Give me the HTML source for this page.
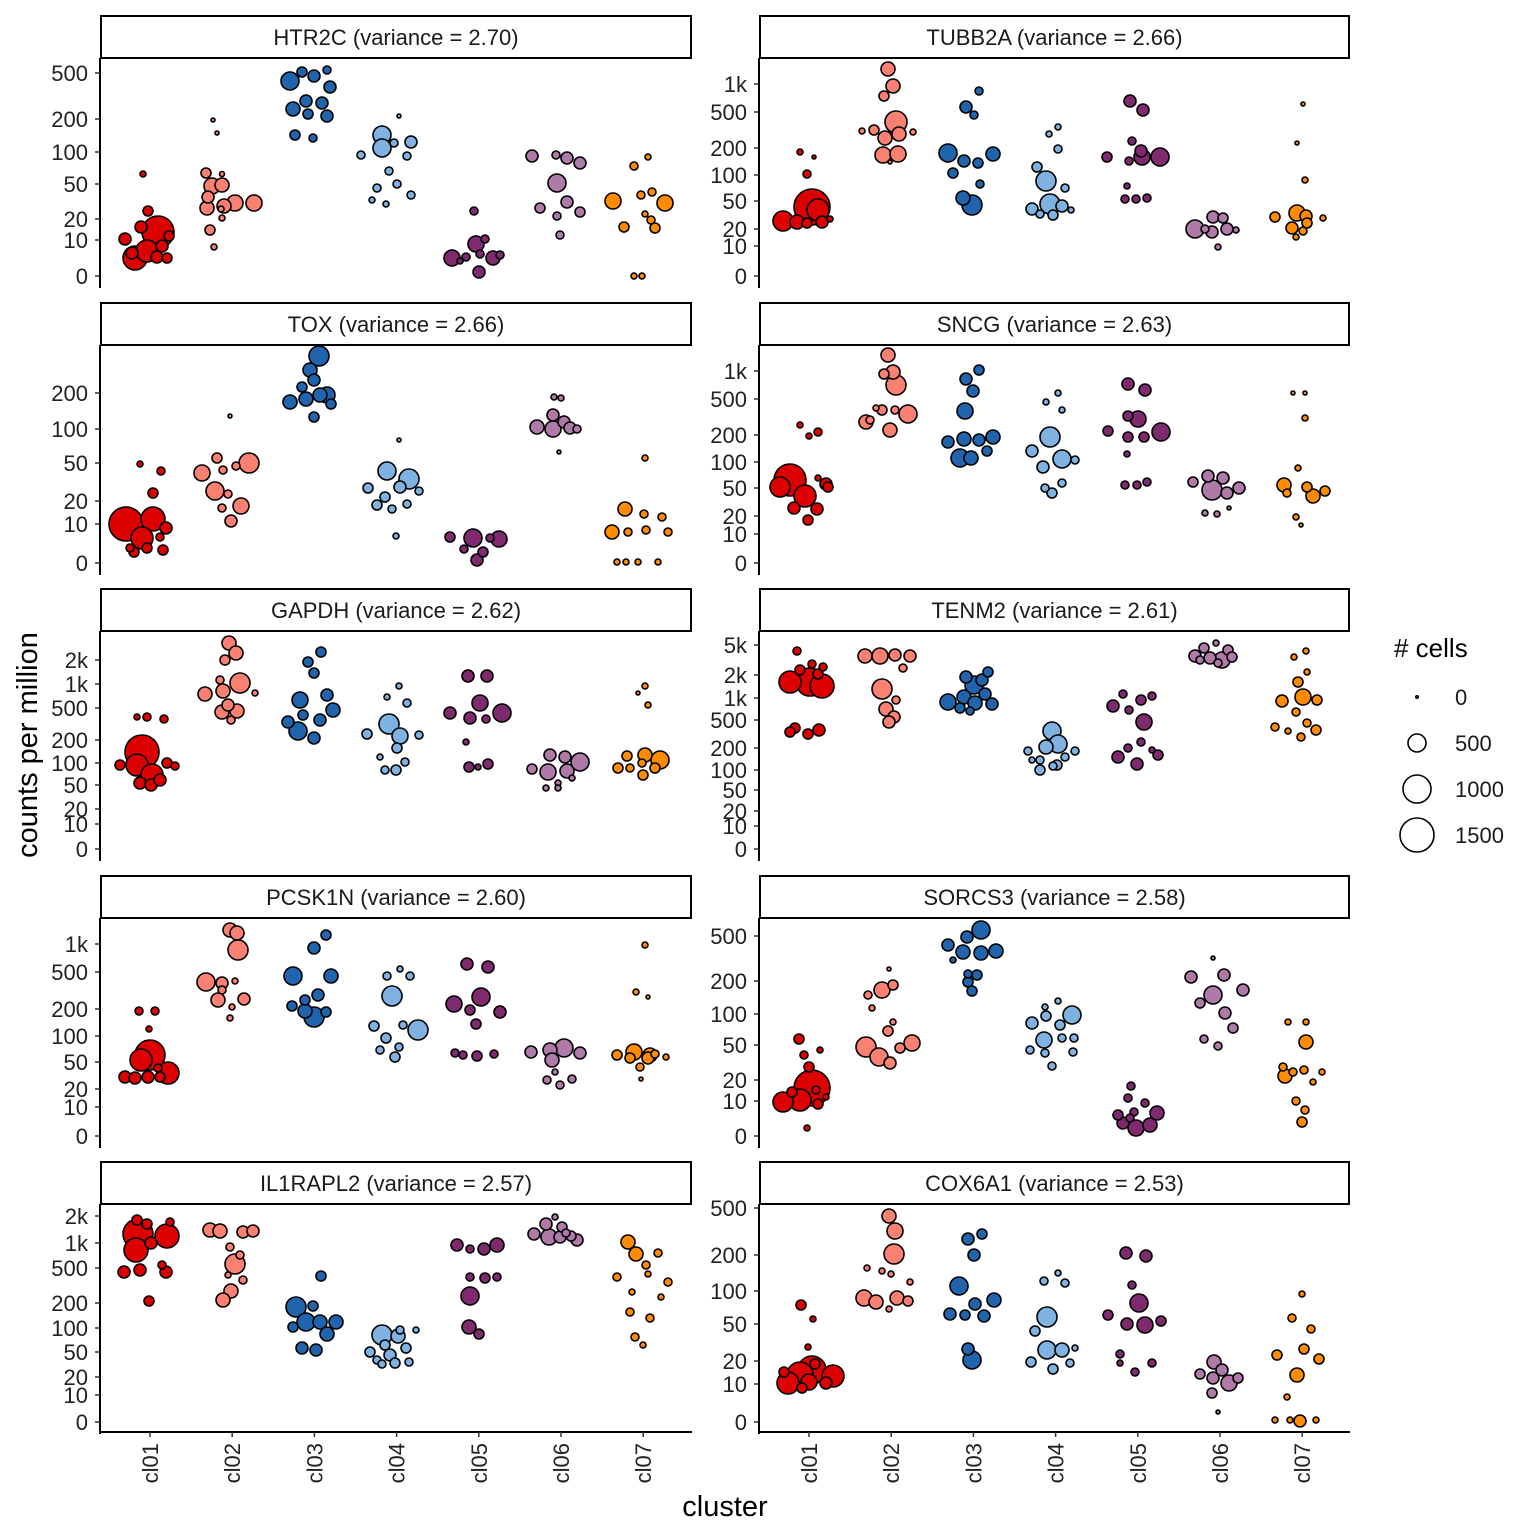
<!DOCTYPE html>
<html><head><meta charset="utf-8"><style>
html,body{margin:0;padding:0;background:#fff}
svg{display:block;font-family:"Liberation Sans",sans-serif}
</style></head><body>
<svg id="s" width="1536" height="1536" xmlns="http://www.w3.org/2000/svg"></svg>
<script>
const S=document.getElementById('s');let h='';
const cols=['#dd0000','#fa8072','#1f64ad','#7fb2e0','#7f2a6e','#b07aa8','#ff8c00'];
const panels=[
{t:'HTR2C (variance = 2.70)',c:0,r:0,ticks:[['500',73],['200',119],['100',152],['50',184],['20',219],['10',240],['0',276]],
p:[[[143,174,3],[148,211,5],[141,227,6],[158,232,16],[125,239,6],[132,253,6],[147,251,11],[135,258,12],[162,246,6],[167,258,5],[157,257,6],[169,236,5]],
[[213,120,2],[217,133,2],[222,174,2.5],[206,173,5],[212,186,8],[222,185,7],[207,208,7],[208,197,6],[224,206,7],[235,203,8],[254,203,8],[221,209,3],[222,218,3],[210,230,5],[214,247,3]],
[[290,81,9],[302,72,5],[314,76,6],[327,70,4],[330,87,6],[293,109,7],[306,101,6],[322,103,6],[308,114,5],[327,116,6],[295,135,5],[313,138,4]],
[[399,116,2],[382,135,9],[382,148,9],[361,155,4],[394,143,4],[411,142,6],[407,156,4],[389,171,4],[377,188,4],[397,184,4],[411,195,4],[386,204,3],[372,200,3]],
[[474,211,4],[476,244,8],[485,239,4],[452,258,8],[466,257,4],[480,254,4],[493,258,7],[500,255,4],[479,272,6],[460,261,3]],
[[532,156,6],[556,155,4],[567,158,6],[580,163,6],[557,183,9],[540,208,5],[567,202,6],[580,212,5],[557,216,4],[560,235,4]],
[[648,157,3],[634,166,4],[613,201,8],[641,195,4],[652,192,4],[665,203,8],[645,214,3],[624,227,5],[651,220,4],[655,228,5],[634,276,3],[642,276,3]]]},
{t:'TUBB2A (variance = 2.66)',c:1,r:0,ticks:[['1k',84],['500',112],['200',148],['100',175],['50',201],['20',229],['10',246],['0',276]],
p:[[[800,152,3],[814,157,2],[807,174,4],[783,221,10],[797,222,7],[812,207,18],[818,210,11],[822,222,6],[807,223,5],[830,219,3]],
[[888,69,7],[893,86,7],[884,96,5],[862,131,3],[874,130,5],[896,122,11],[885,138,7],[899,134,7],[883,155,8],[898,154,8],[913,132,3],[890,162,2]],
[[979,91,4],[966,107,6],[974,115,4],[948,153,9],[964,161,6],[978,163,5],[993,154,7],[953,173,5],[980,184,4],[963,198,7],[972,205,10]],
[[1058,127,3],[1049,134,3],[1058,149,4],[1037,167,5],[1046,181,10],[1065,188,4],[1032,209,6],[1050,204,10],[1062,206,6],[1040,214,4],[1053,215,5],[1071,210,3]],
[[1130,101,6],[1143,110,6],[1132,141,4],[1107,157,5],[1141,151,6],[1142,157,8],[1160,157,9],[1129,161,4],[1127,186,3],[1125,199,4],[1136,199,4],[1147,198,4]],
[[1213,217,6],[1223,218,5],[1195,229,9],[1212,232,6],[1227,229,6],[1236,230,3],[1218,247,3],[1205,229,4]],
[[1303,104,2],[1297,143,2],[1305,180,3],[1275,217,5],[1297,213,8],[1306,216,6],[1323,218,3],[1292,228,6],[1303,231,4],[1296,237,3],[1307,223,5]]]},
{t:'TOX (variance = 2.66)',c:0,r:1,ticks:[['200',393],['100',429],['50',463],['20',501],['10',524],['0',563]],
p:[[[140,464,3],[161,471,4],[153,493,5],[126,524,17],[153,519,12],[142,538,11],[166,528,6],[130,548,4],[134,552,5],[147,548,5],[163,550,5],[160,537,4]],
[[230,416,2],[217,458,5],[202,473,8],[223,470,4],[236,466,4],[249,463,10],[215,491,9],[228,494,4],[241,506,8],[231,521,6],[222,508,4]],
[[319,356,10],[310,370,7],[314,380,6],[302,387,5],[290,402,7],[306,399,7],[320,395,7],[327,395,8],[331,404,5],[314,417,5]],
[[399,440,2],[387,471,9],[409,479,10],[368,488,5],[400,487,6],[385,497,5],[377,505,5],[392,509,4],[419,491,4],[407,504,4],[396,536,3]],
[[450,537,5],[473,538,9],[499,539,8],[483,552,5],[477,560,6],[490,538,4],[464,549,4]],
[[554,397,3],[561,398,3],[553,415,6],[564,422,6],[537,427,7],[553,429,8],[570,428,6],[577,429,4],[559,452,2]],
[[645,458,3],[625,509,7],[644,514,4],[612,532,7],[628,532,4],[646,530,4],[662,517,4],[668,532,4],[617,562,3],[626,562,3],[638,562,3],[658,562,3]]]},
{t:'SNCG (variance = 2.63)',c:1,r:1,ticks:[['1k',371],['500',399],['200',435],['100',462],['50',488],['20',516],['10',534],['0',563]],
p:[[[800,425,3],[818,432,4],[809,436,3],[790,480,16],[780,487,10],[805,496,11],[794,508,6],[817,509,6],[808,520,5],[826,484,6],[828,487,5],[818,478,3]],
[[888,355,7],[893,372,7],[884,374,5],[896,385,10],[866,422,7],[882,410,5],[895,410,4],[908,414,9],[890,430,7],[876,408,3],[870,420,4]],
[[979,370,5],[966,379,6],[973,391,6],[965,411,8],[948,442,6],[964,439,7],[979,440,6],[993,437,7],[960,458,9],[971,458,7],[987,451,5]],
[[1058,393,3],[1046,402,3],[1062,410,3],[1050,437,10],[1032,451,6],[1062,459,9],[1043,467,6],[1075,460,4],[1045,488,4],[1052,493,5],[1062,483,4]],
[[1128,384,6],[1145,390,6],[1128,416,5],[1138,419,8],[1161,432,9],[1108,431,5],[1128,437,5],[1144,437,5],[1127,454,3],[1125,485,4],[1137,485,4],[1147,482,4]],
[[1208,476,6],[1223,478,6],[1193,482,5],[1212,490,10],[1227,493,6],[1239,488,6],[1205,513,3],[1217,514,3],[1229,508,2]],
[[1293,393,2],[1305,393,2],[1305,418,3],[1298,468,3],[1284,485,7],[1307,487,5],[1313,496,7],[1325,491,5],[1296,517,3],[1301,525,2],[1287,493,4]]]},
{t:'GAPDH (variance = 2.62)',c:0,r:2,ticks:[['2k',660],['1k',684],['500',708],['200',740],['100',763],['50',785],['20',809],['10',824],['0',849]],
p:[[[137,717,3],[147,717,4],[164,719,4],[142,752,17],[137,765,11],[120,765,5],[152,775,11],[140,783,6],[151,785,6],[160,780,6],[167,763,5],[175,766,4]],
[[229,643,7],[236,653,7],[225,660,5],[205,694,7],[223,691,7],[240,683,10],[228,705,6],[222,712,7],[237,711,7],[231,720,4],[255,693,3],[220,680,4]],
[[321,652,5],[308,662,5],[314,673,5],[300,700,8],[327,695,6],[288,722,6],[298,731,9],[314,738,6],[320,720,6],[333,710,7],[303,715,5]],
[[399,686,3],[387,697,3],[407,703,4],[389,724,10],[367,734,5],[400,736,8],[419,735,4],[397,748,5],[380,757,3],[385,770,4],[396,770,5],[405,762,4]],
[[468,676,6],[487,676,6],[450,713,6],[480,703,8],[470,718,6],[486,719,4],[502,713,9],[466,742,3],[469,767,5],[478,767,3],[488,764,5]],
[[550,755,6],[565,757,6],[580,762,9],[532,769,5],[548,772,8],[567,771,7],[558,783,3],[546,788,3],[558,788,3],[572,778,3]],
[[645,686,3],[638,693,2],[648,705,3],[627,756,5],[645,755,7],[660,760,9],[618,768,5],[630,768,4],[642,763,4],[655,768,5],[643,775,5]]]},
{t:'TENM2 (variance = 2.61)',c:1,r:2,ticks:[['5k',645],['2k',675],['1k',698],['500',720],['200',748],['100',770],['50',790],['20',811],['10',826],['0',849]],
p:[[[797,651,4],[812,664,4],[823,667,4],[790,682,11],[810,682,14],[822,686,12],[800,670,5],[818,674,5],[795,728,5],[808,734,5],[819,730,6],[790,732,5]],
[[865,656,7],[880,656,8],[895,655,6],[910,656,6],[903,668,4],[882,689,10],[886,709,7],[894,717,6],[889,722,6],[896,700,4]],
[[966,677,6],[982,680,6],[988,672,5],[974,685,9],[948,702,8],[964,697,7],[975,703,7],[985,694,6],[992,704,6],[960,708,5],[970,711,4]],
[[1052,731,9],[1028,751,4],[1046,747,7],[1058,744,9],[1075,751,4],[1040,760,4],[1053,766,4],[1065,757,4],[1040,770,5],[1057,765,5],[1032,760,3]],
[[1123,694,4],[1141,700,5],[1152,696,4],[1113,706,6],[1144,722,8],[1129,710,4],[1141,742,4],[1158,755,5],[1128,748,4],[1118,757,6],[1137,764,6],[1152,750,3]],
[[1216,643,3],[1204,648,5],[1228,650,5],[1195,656,6],[1210,658,6],[1222,660,8],[1232,657,5],[1218,663,4],[1200,660,4]],
[[1306,651,3],[1294,657,3],[1307,672,3],[1298,682,5],[1282,701,6],[1303,697,8],[1317,700,5],[1296,712,4],[1275,727,4],[1288,731,3],[1307,723,4],[1316,730,5],[1301,737,4]]]},
{t:'PCSK1N (variance = 2.60)',c:0,r:3,ticks:[['1k',944],['500',972],['200',1009],['100',1036],['50',1062],['20',1089],['10',1107],['0',1136]],
p:[[[139,1011,4],[155,1011,4],[149,1029,3],[150,1055,15],[141,1060,11],[168,1073,11],[125,1077,6],[135,1078,6],[148,1077,6],[160,1077,5],[158,1068,4]],
[[230,930,7],[237,933,7],[238,950,10],[206,982,9],[222,983,6],[235,981,3],[218,1000,7],[244,999,6],[232,1007,3],[222,990,4],[230,1018,3]],
[[326,935,5],[314,948,6],[293,976,9],[331,976,7],[318,995,6],[292,1006,5],[305,1011,7],[326,1012,5],[314,1017,10],[305,1000,5]],
[[400,969,3],[387,976,4],[410,976,4],[392,996,10],[374,1026,5],[403,1025,4],[418,1030,10],[386,1038,5],[399,1047,4],[380,1050,4],[395,1057,5]],
[[467,964,6],[488,967,6],[454,1004,8],[481,997,9],[470,1010,5],[500,1012,6],[476,1024,5],[455,1053,4],[463,1055,4],[477,1056,5],[494,1054,4]],
[[550,1050,7],[564,1048,9],[580,1053,6],[531,1052,6],[552,1060,7],[547,1080,4],[560,1085,4],[572,1079,4],[555,1072,3]],
[[645,945,3],[636,992,3],[648,997,2],[634,1052,8],[648,1058,6],[617,1055,5],[630,1058,5],[650,1055,7],[666,1057,3],[640,1067,4],[641,1079,2],[655,1054,4]]]},
{t:'SORCS3 (variance = 2.58)',c:1,r:3,ticks:[['500',936],['200',981],['100',1014],['50',1045],['20',1080],['10',1101],['0',1136]],
p:[[[799,1039,5],[820,1050,3],[804,1055,4],[809,1067,5],[812,1088,18],[800,1100,11],[783,1102,10],[792,1092,5],[818,1104,5],[826,1097,3],[816,1090,4],[807,1128,3]],
[[889,969,2],[868,995,4],[882,990,8],[893,985,5],[872,1008,3],[893,1022,3],[866,1047,10],[879,1057,9],[890,1063,6],[900,1048,5],[912,1043,8],[888,1031,5]],
[[981,930,9],[967,937,6],[948,945,6],[963,952,7],[981,953,7],[996,951,7],[953,960,3],[968,974,4],[977,975,5],[968,982,5],[972,991,5]],
[[1058,1001,3],[1045,1007,3],[1046,1016,5],[1072,1015,9],[1032,1023,6],[1060,1025,5],[1044,1040,8],[1062,1038,4],[1074,1038,4],[1030,1050,4],[1045,1053,4],[1073,1052,4],[1052,1066,4]],
[[1131,1086,4],[1128,1098,4],[1145,1103,4],[1134,1112,4],[1118,1115,5],[1157,1113,7],[1123,1123,6],[1150,1125,7],[1136,1128,8],[1130,1118,4]],
[[1213,958,2],[1191,977,6],[1224,975,6],[1243,990,6],[1213,995,9],[1200,1003,5],[1225,1013,6],[1233,1028,5],[1204,1039,4],[1218,1046,4]],
[[1288,1022,3],[1306,1022,3],[1306,1042,7],[1283,1067,4],[1285,1076,7],[1293,1072,4],[1304,1070,4],[1313,1082,3],[1322,1072,3],[1296,1101,4],[1305,1110,4],[1302,1122,5]]]},
{t:'IL1RAPL2 (variance = 2.57)',c:0,r:4,ticks:[['2k',1216],['1k',1243],['500',1268],['200',1303],['100',1328],['50',1352],['20',1377],['10',1395],['0',1422]],
p:[[[137,1220,5],[147,1224,5],[170,1222,4],[138,1234,15],[167,1236,12],[136,1250,12],[151,1243,6],[124,1272,6],[140,1270,6],[166,1272,6],[162,1265,4],[149,1301,5]],
[[210,1230,7],[220,1231,7],[243,1232,6],[253,1231,6],[230,1247,4],[235,1264,10],[240,1255,4],[228,1275,3],[231,1291,7],[223,1300,7],[243,1280,4]],
[[321,1276,5],[296,1307,10],[313,1306,5],[320,1322,7],[306,1322,9],[293,1327,5],[336,1322,7],[327,1334,7],[302,1348,6],[316,1350,6]],
[[400,1330,4],[382,1335,10],[398,1336,7],[416,1330,3],[370,1352,5],[390,1355,6],[406,1348,5],[377,1360,4],[382,1364,4],[395,1363,5],[409,1362,4],[385,1345,5]],
[[457,1245,6],[470,1249,4],[484,1249,6],[497,1245,7],[470,1277,4],[485,1278,5],[497,1277,4],[470,1296,9],[469,1327,7],[479,1334,5]],
[[555,1217,3],[546,1224,6],[562,1227,5],[534,1234,6],[549,1237,8],[560,1237,6],[571,1236,5],[577,1240,6],[566,1233,4]],
[[628,1242,7],[636,1254,7],[658,1253,4],[646,1265,4],[617,1277,4],[648,1274,3],[668,1282,4],[632,1292,3],[630,1312,4],[650,1318,4],[635,1337,4],[643,1345,3],[661,1297,3]]]},
{t:'COX6A1 (variance = 2.53)',c:1,r:4,ticks:[['500',1208],['200',1255],['100',1291],['50',1324],['20',1361],['10',1384],['0',1422]],
p:[[[801,1305,5],[813,1319,3],[808,1347,3],[815,1364,5],[800,1375,13],[812,1370,14],[833,1376,11],[788,1383,11],[826,1383,6],[802,1388,5],[784,1372,5],[809,1382,8]],
[[889,1216,7],[895,1231,8],[894,1254,10],[867,1268,3],[882,1271,3],[891,1274,3],[910,1282,3],[864,1298,8],[876,1302,7],[897,1298,7],[908,1301,5],[889,1309,3]],
[[982,1234,5],[968,1239,6],[974,1255,6],[959,1286,9],[975,1304,6],[950,1314,6],[965,1315,5],[984,1316,6],[994,1300,7],[968,1349,6],[972,1360,9]],
[[1058,1273,3],[1044,1281,4],[1065,1283,4],[1047,1317,10],[1035,1331,5],[1047,1350,9],[1062,1350,7],[1031,1362,5],[1053,1369,5],[1070,1363,4],[1075,1348,3]],
[[1126,1253,6],[1146,1256,6],[1132,1285,4],[1139,1303,9],[1108,1315,5],[1127,1324,6],[1145,1325,8],[1161,1321,5],[1120,1354,4],[1135,1372,4],[1152,1363,4],[1120,1363,3]],
[[1214,1362,7],[1222,1370,6],[1200,1374,5],[1213,1378,6],[1238,1378,5],[1229,1383,8],[1212,1393,5],[1218,1412,2]],
[[1302,1294,3],[1292,1318,4],[1311,1329,4],[1277,1355,5],[1304,1349,5],[1319,1359,5],[1297,1375,7],[1275,1420,3],[1290,1420,3],[1300,1421,6],[1316,1420,3],[1287,1397,3]]]}
];
const rowTop=[15,302,588,875,1161];
panels.forEach(P=>{
  const x0=P.c?759:100, x1=P.c?1350:692, top=rowTop[P.r], pt=top+43, pb=pt+229;
  h+=`<rect x="${x0+1}" y="${top+1}" width="${x1-x0-2}" height="42" fill="#fff" stroke="#000" stroke-width="2"/>`;
  h+=`<text x="${(x0+x1)/2}" y="${top+30}" font-size="22" text-anchor="middle" fill="#1a1a1a">${P.t}</text>`;
  h+=`<line x1="${x0}" y1="${pt}" x2="${x0}" y2="${pb+1}" stroke="#000" stroke-width="2"/>`;
  P.ticks.forEach(t=>{h+=`<line x1="${x0-5}" y1="${t[1]}" x2="${x0}" y2="${t[1]}" stroke="#333" stroke-width="1.5"/><text x="${x0-12}" y="${t[1]+8}" font-size="22" text-anchor="end" fill="#222">${t[0]}</text>`;});
  P.p.forEach((g,ci)=>{g.slice().sort((a,b)=>b[2]-a[2]).forEach(q=>{h+=`<circle cx="${q[0]}" cy="${q[1]}" r="${q[2]}" fill="${cols[ci]}" stroke="#000" stroke-width="1.6"/>`;});});
  if(P.r==4){
    h+=`<line x1="${x0-1}" y1="1432" x2="${x1}" y2="1432" stroke="#000" stroke-width="2"/>`;
    for(let i=0;i<7;i++){const tx=(P.c?809:150)+i*82.2;
      h+=`<line x1="${tx}" y1="1432" x2="${tx}" y2="1437" stroke="#333" stroke-width="1.5"/>`;
      h+=`<text transform="translate(${tx+8},1443) rotate(-90)" font-size="22" text-anchor="end" fill="#222">cl0${i+1}</text>`;}
  }
});
h+=`<text x="725" y="1516" font-size="29" text-anchor="middle">cluster</text>`;
h+=`<text transform="translate(37,745) rotate(-90)" font-size="29" text-anchor="middle">counts per million</text>`;
h+=`<text x="1394" y="657" font-size="26">#  cells</text>`;
[[697,1.2,'0'],[743,9,'500'],[789,14,'1000'],[835,17,'1500']].forEach(l=>{
  h+=`<circle cx="1417" cy="${l[0]}" r="${l[1]}" fill="#fff" stroke="#000" stroke-width="1.6"/><text x="1455" y="${l[0]+8}" font-size="22" fill="#1a1a1a">${l[2]}</text>`;});
S.innerHTML=h;
</script>
</body></html>
